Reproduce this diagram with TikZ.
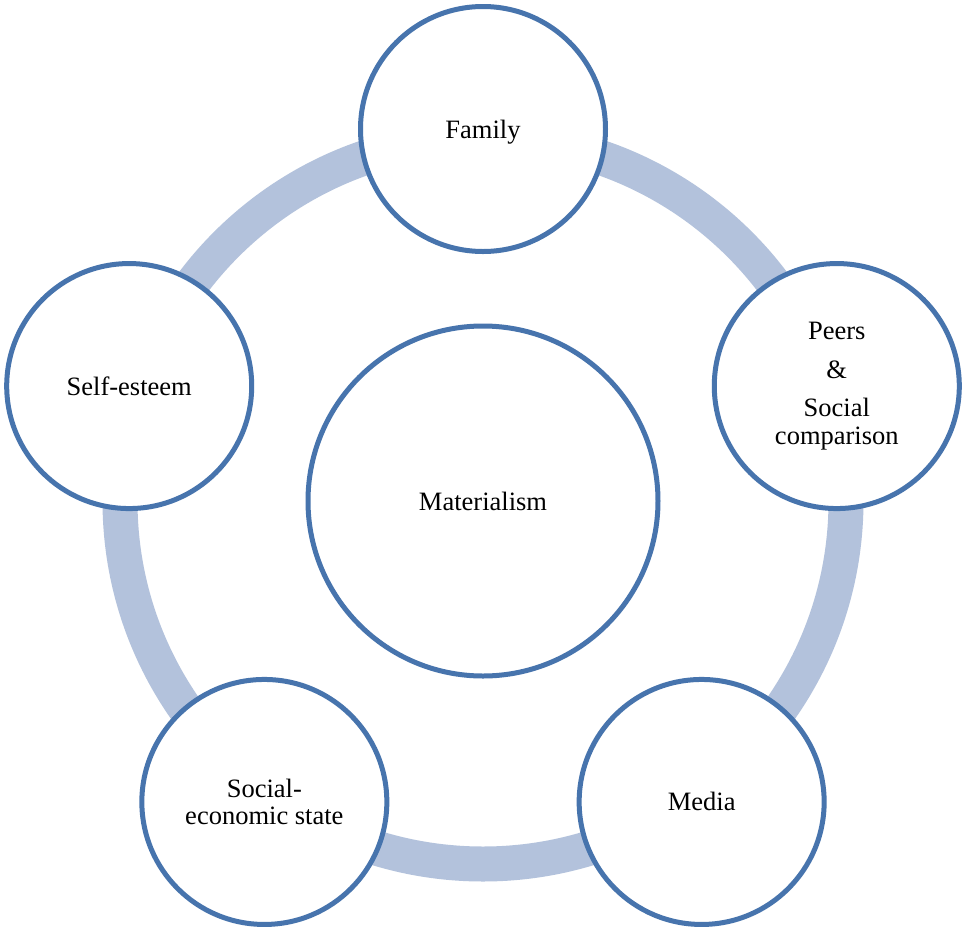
\documentclass[tikz,border=0pt]{standalone}
\usepackage{fontspec}
\setmainfont{Liberation Serif}
\usetikzlibrary{calc}
\definecolor{ringblue}{HTML}{B3C2DC}
\definecolor{edgeblue}{HTML}{4774AD}
\begin{document}
\begin{tikzpicture}[x=1pt,y=-1pt,
  bubble/.style={circle,draw=edgeblue,line width=5pt,fill=white,inner sep=0pt,
    align=center,font=\fontsize{26.5}{27.5}\selectfont},
  small/.style={bubble,minimum size=245pt},
  big/.style={bubble,minimum size=350pt},
  oneline/.style={text height=18pt,text depth=0pt}]
\useasboundingbox (0,0) rectangle (962,930);
\fill[white] (0,0) rectangle (962,930);
% cycle ring behind the bubbles
\coordinate (hub) at (483,501);
\draw[ringblue,line width=35pt] (hub) circle[radius=363];
% centre bubble
\node[big,oneline] (materialism) at (hub) {Materialism};
% outer bubbles on a pentagon around the hub (y axis points down)
\node[small,oneline] (family) at ($(hub)+(-90:372)$) {Family};
\node[small] (peers) at ($(hub)+(-18:372)$) {Peers\\[11pt]\&\\[11pt]Social\\comparison};
\node[small,oneline] (media) at ($(hub)+(54:372)$) {Media};
\node[small] (ses) at ($(hub)+(126:372)$) {Social-\\economic state};
\node[small,oneline] (esteem) at ($(hub)+(198:372)$) {Self-esteem};
\end{tikzpicture}
\end{document}
